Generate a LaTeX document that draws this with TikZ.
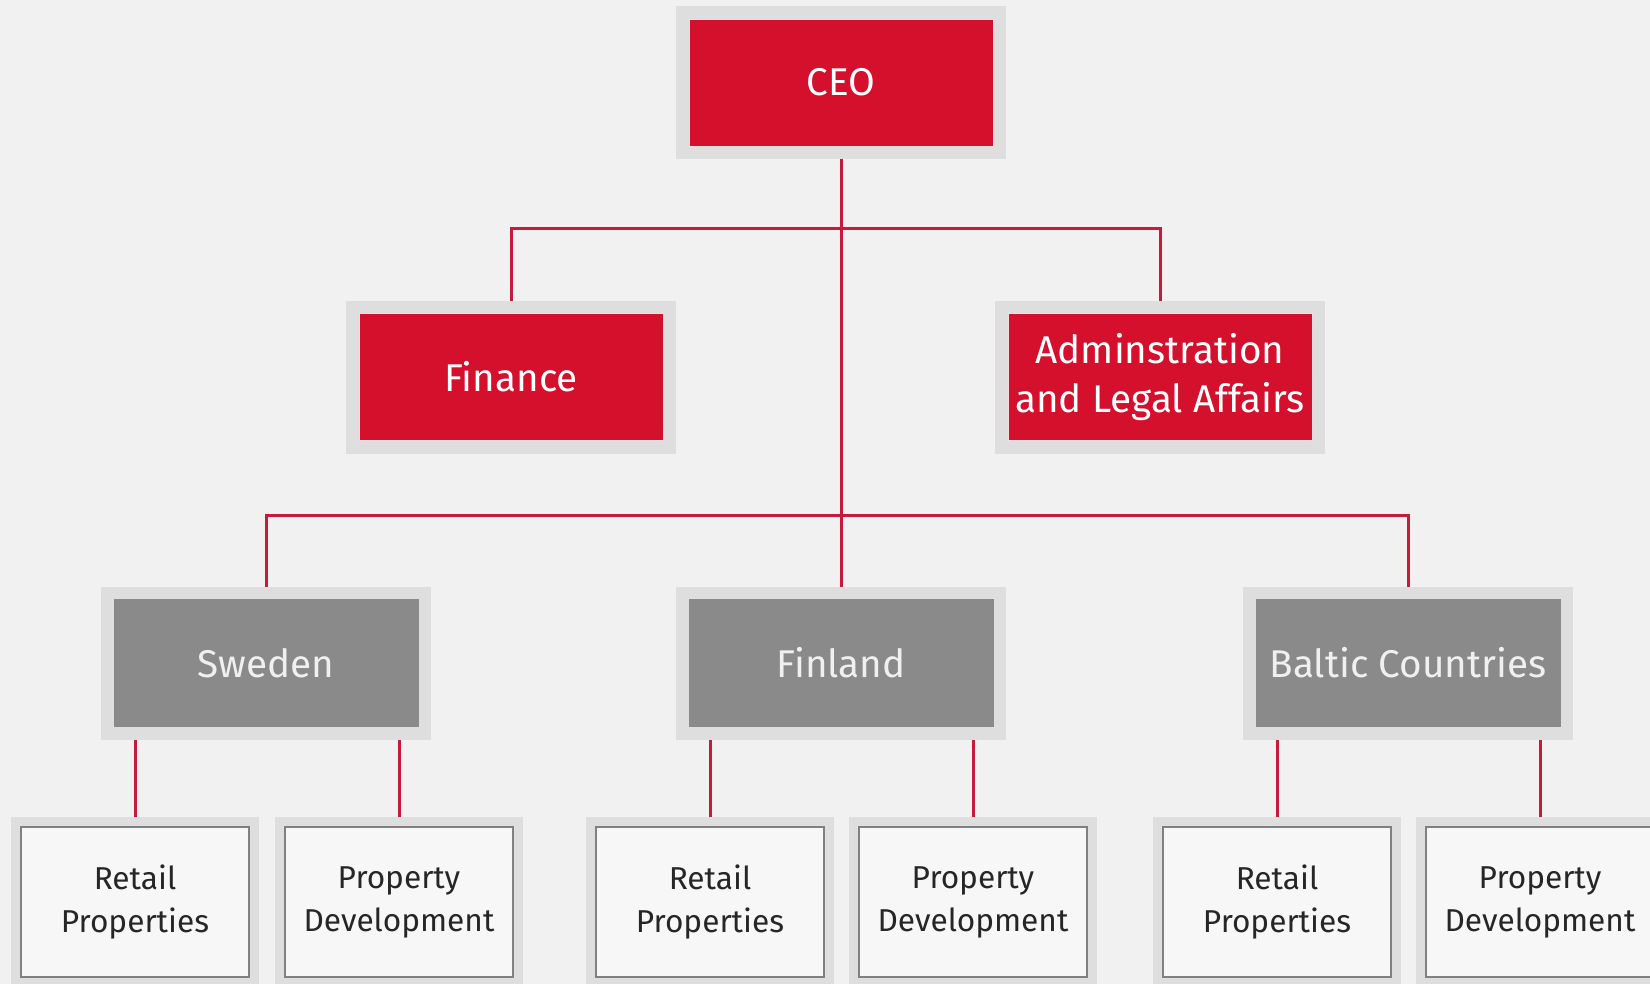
\documentclass[tikz,border=0pt]{standalone}
\usepackage{fontspec}
\setmainfont{Fira Sans}
\usetikzlibrary{positioning}

\definecolor{corpred}{RGB}{212,16,44}
\definecolor{linkred}{RGB}{196,28,58}
\definecolor{framegray}{RGB}{222,222,222}
\definecolor{unitgray}{RGB}{138,138,138}
\definecolor{bggray}{RGB}{241,241,241}

\begin{document}
\begin{tikzpicture}[x=0.2mm,y=-0.2mm,
    mainbox/.style={minimum width=60.8mm,minimum height=25.4mm,inner sep=0pt,
      align=center,font=\fontsize{22}{28}\selectfont,outer sep=2.6mm,
      preaction={draw=framegray,line width=5.2mm}},
    redbox/.style={mainbox,fill=corpred,draw=white!85!corpred,line width=0.4pt,text=white},
    countrybox/.style={mainbox,fill=unitgray,draw=unitgray,text=white!94!black},
    divbox/.style={minimum width=45.6mm,minimum height=30mm,inner sep=0pt,
      align=center,font=\fontsize{18}{24.5}\selectfont,outer sep=2mm,
      fill=white!97!black,draw=black!50,line width=0.5mm,text=black!85,
      preaction={draw=framegray,line width=4mm}},
    link/.style={draw=linkred,line width=0.6mm}]
  \clip (0,0) rectangle (1650,984);
  \fill[bggray] (0,0) rectangle (1650,984);

  % top level
  \node[redbox] (ceo) at (841,82.5) {CEO};
  \node[redbox] (finance) at (511,377) {Finance};
  \node[redbox] (admin) at (1160,377) {Adminstration\\and Legal Affairs};

  % countries
  \node[countrybox] (sweden) at (266,663) {Sweden};
  \node[countrybox] (finland) at (841,663) {Finland};
  \node[countrybox] (baltic) at (1408,663) {Baltic Countries};

  % divisions
  \node[divbox] (swret) at (135,902) {Retail\\Properties};
  \node[divbox] (swdev) at (399,902) {Property\\Development};
  \node[divbox] (firet) at (710,902) {Retail\\Properties};
  \node[divbox] (fidev) at (973,902) {Property\\Development};
  \node[divbox] (baret) at (1277,902) {Retail\\Properties};
  \node[divbox] (badev) at (1540,902) {Property\\Development};

  % connectors
  \coordinate (staffbar) at (841,228);
  \coordinate (countrybar) at (841,515);
  \draw[link] (ceo.south) -- (finland.north);
  \draw[link] (finance.north) |- (staffbar) -| (admin.north);
  \draw[link] (sweden.north) |- (countrybar) -| (baltic.north);
  \foreach \unit/\ret/\dev in {sweden/swret/swdev,finland/firet/fidev,baltic/baret/badev} {
    \draw[link] (\ret.north) -- (\ret.north |- \unit.south);
    \draw[link] (\dev.north) -- (\dev.north |- \unit.south);
  }
\end{tikzpicture}
\end{document}
